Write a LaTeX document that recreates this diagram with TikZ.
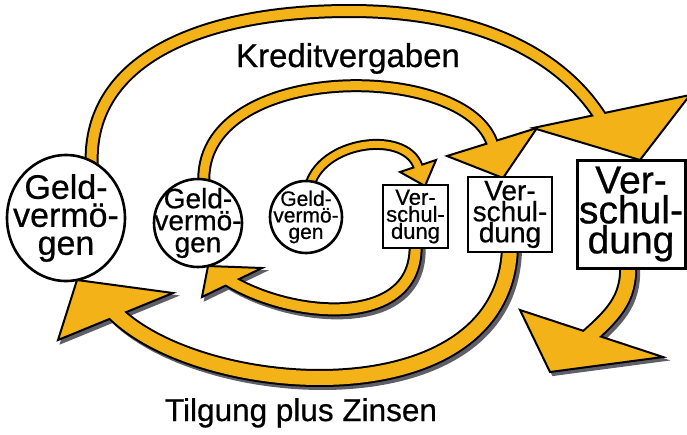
\documentclass[tikz,border=0pt]{standalone}
\usepackage{fontspec}
\setmainfont{Liberation Sans}
\newfontfamily\hv[FakeBold=0.6]{Liberation Sans}
\usetikzlibrary{shapes.geometric,calc}
\pgfdeclarelayer{shadow}
\pgfdeclarelayer{bands}
\pgfsetlayers{shadow,bands,main}
\definecolor{bandcol}{RGB}{244,178,25}
\definecolor{shadecol}{RGB}{95,95,105}
\newcommand\fs[2]{\hv\fontsize{#1}{#2}\selectfont}
\newcommand\BandShadow[5]{%
  \begin{pgfonlayer}{shadow}
    \begin{scope}[transform canvas={shift={(3,3)}}]
      \draw[shadecol,line width=#1+4pt] #2;
      \filldraw[shadecol,line width=2pt] #3 -- #4 -- #5 -- cycle;
    \end{scope}
  \end{pgfonlayer}}
\newcommand\Band[5]{%
  \begin{pgfonlayer}{bands}
    \draw[black,line width=#1+4pt] #2;
    \filldraw[fill=bandcol,draw=black,line width=2pt] #3 -- #4 -- #5 -- cycle;
    \draw[bandcol,line width=#1] #2;
  \end{pgfonlayer}}
\begin{document}
\begin{tikzpicture}[x=1pt,y=-1pt,
  geld/.style={ellipse,draw=black,line width=2.6pt,fill=white,inner sep=0pt},
  schuld/.style={rectangle,draw=black,fill=white,inner sep=0pt,align=center},
  lbl/.style={align=center,inner sep=0pt,text=black}]
\useasboundingbox (0,0) rectangle (687,434);

% Geldvermoegen circles
\node[geld,minimum width=118pt,minimum height=126pt] (c1) at (66,218) {};
\node[lbl,font=\fs{34}{28}] (c1t) at (c1.center) {Geld-\\vermö-\\gen};
\node[geld,minimum width=88pt,minimum height=88pt] (c2) at (198,223) {};
\node[lbl,font=\fs{28}{22}] (c2t) at (c2.center) {Geld-\\vermö-\\gen};
\node[geld,minimum width=72pt,minimum height=72pt] (c3) at (306,217) {};
\node[lbl,font=\fs{21}{16.5}] (c3t) at (c3.center) {Geld-\\vermö-\\gen};

% Verschuldung boxes
\node[schuld,line width=2.4pt,minimum width=65pt,minimum height=63pt,font=\fs{22}{17}] (b1) at (415.5,216.5) {Ver-\\schul-\\dung};
\node[schuld,line width=2.8pt,minimum width=84pt,minimum height=75pt,font=\fs{28}{21}] (b2) at (510,214.5) {Ver-\\schul-\\dung};
\node[schuld,line width=3pt,minimum width=108pt,minimum height=108pt,font=\fs{39}{30}] (b3) at (631,214) {Ver-\\schul-\\dung};

% labels
\node[lbl,font=\fs{33}{38},anchor=base] (kv) at (348,67) {Kreditvergaben};
\node[lbl,font=\fs{31.5}{37},anchor=base] (tz) at (301,421) {Tilgung plus Zinsen};

% band end points and arrow tips
\coordinate (sA) at ($(c3.center)+(3,-28)$);
\coordinate (eA) at (419,170);
\coordinate (hA) at (425,186);
\coordinate (sB) at ($(c2.center)+(6,-38)$);
\coordinate (eB) at (493,146);
\coordinate (hB) at (503,178);
\coordinate (sC) at ($(c1.center)+(26,-48)$);
\coordinate (eC) at (603,121);
\coordinate (hC) at (640,160);
\coordinate (sD) at ($(b1.south)+(0,-6)$);
\coordinate (eD) at (225,278);
\coordinate (hD) at (208,266);
\coordinate (sE) at ($(b2.south)+(0,-6)$);
\coordinate (eE) at (113,311);
\coordinate (hE) at (77,280);
\coordinate (sF) at ($(b3.south)+(-3,-6)$);
\coordinate (eF) at (584,341);
\coordinate (hF) at (550,372);

% Kreditvergaben (upper arcs)
\Band{7pt}{(sA) .. controls (318,140) and (410,128) .. (eA)}{(400,172)}{(hA)}{(436,160)}
\Band{9pt}{(sB) .. controls (195,60) and (470,60) .. (eB)}{(447,156)}{(hB)}{(537,128)}
\Band{10pt}{(sC) .. controls (84,60) and (200,11) .. (350,11) .. controls (470,11) and (560,50) .. (eC)}{(533,128)}{(hC)}{(690,95)}

% Tilgung plus Zinsen (lower arcs)
\BandShadow{10pt}{(sD) .. controls (420,330) and (290,320) .. (eD)}{(262,268)}{(hD)}{(202,297)}
\Band{10pt}{(sD) .. controls (420,330) and (290,320) .. (eD)}{(262,268)}{(hD)}{(202,297)}
\BandShadow{14pt}{(sE) .. controls (505,420) and (200,400) .. (eE)}{(173,293)}{(hE)}{(58,340)}
\Band{14pt}{(sE) .. controls (505,420) and (200,400) .. (eE)}{(173,293)}{(hE)}{(58,340)}
\BandShadow{14pt}{(sF) .. controls (630,300) and (612,316) .. (eF)}{(520,310)}{(hF)}{(663,357)}
\Band{14pt}{(sF) .. controls (630,300) and (612,316) .. (eF)}{(520,310)}{(hF)}{(663,357)}
\end{tikzpicture}
\end{document}
